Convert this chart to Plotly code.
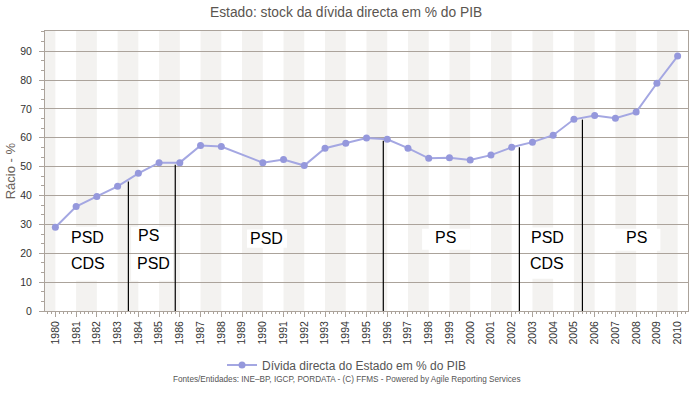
import plotly.graph_objects as go

years = list(range(1980, 2011))
ratio = [29.0, 36.2, 39.7, 43.2, 47.7, 51.4, 51.4, 57.3, 57.0, None,
         51.4, 52.5, 50.4, 56.4, 58.1, 59.9, 59.5, 56.4, 52.9, 53.1,
         52.3, 54.0, 56.7, 58.5, 60.9, 66.4, 67.7, 66.8, 68.9, 78.9, 88.3]

series_name = "Dívida directa do Estado em % do PIB"
title_text = "Estado: stock da dívida directa em % do PIB"
y_title = "Rácio - %"
footer = "Fontes/Entidades: INE–BP, IGCP, PORDATA - (C) FFMS - Powered by Agile Reporting Services"

# government changes: (x, top of marker line)
gov_change_x = [1983.52, 1985.78, 1995.81, 2002.37, 2005.41]
gov_change_top = [44.9, 50.7, 59.0, 56.7, 66.3]

# party labels: text, x, y
party_text = ["PSD", "CDS", "PS", "PSD", "PSD", "PS", "PSD", "CDS", "PS"]
party_x = [1981.57, 1981.57, 1984.51, 1984.71, 1990.16, 1998.79, 2003.75, 2003.70, 2008.04]
party_y = [25.4, 16.4, 26.1, 16.4, 25.0, 25.4, 25.4, 16.4, 25.4]

# white label boxes: x0, x1, y0, y1
box_x0 = [1980.46, 1983.65, 1989.24, 1997.68, 2002.74, 2006.90]
box_x1 = [1982.88, 1985.67, 1991.17, 1999.99, 2004.43, 2009.17]
box_y0 = [10.5, 10.5, 21.9, 21.2, 11.2, 20.9]
box_y1 = [29.2, 29.2, 28.2, 28.5, 28.9, 28.5]

FONT = "Liberation Sans, Arial, sans-serif"
GRID = "#aba39b"

fig = go.Figure()
fig.add_trace(go.Scatter(
    x=years, y=ratio, name=series_name, mode="lines+markers",
    connectgaps=True,
    line=dict(color="#a4a7e2", width=2),
    marker=dict(color="#9598dc", size=7),
))

shapes = []
for yr in range(1979, 2011, 2):
    shapes.append(dict(type="rect", xref="x", yref="paper",
                       x0=max(yr, 1979.5), x1=yr + 1, y0=0, y1=1,
                       fillcolor="#f3f2f0", line=dict(width=0), layer="below"))
for x0, x1, y0, y1 in zip(box_x0, box_x1, box_y0, box_y1):
    shapes.append(dict(type="rect", xref="x", yref="y", x0=x0, x1=x1, y0=y0, y1=y1,
                       fillcolor="white", line=dict(width=0), layer="below"))
for gx, gt in zip(gov_change_x, gov_change_top):
    shapes.append(dict(type="line", xref="x", yref="y", x0=gx, x1=gx, y0=0, y1=gt,
                       line=dict(color="black", width=1.2)))

annotations = []
for t, px, py in zip(party_text, party_x, party_y):
    annotations.append(dict(x=px, y=py, xref="x", yref="y", text=t, showarrow=False,
                            font=dict(family=FONT, size=16, color="black")))
annotations.append(dict(x=0.4697, y=-0.268, xref="paper", yref="paper", text=footer,
                        showarrow=False, font=dict(family=FONT, size=8.2, color="#555555")))
annotations.append(dict(x=-0.054, y=0.5, xref="paper", yref="paper", text=y_title,
                        textangle=-90, showarrow=False, xanchor="center", yanchor="middle",
                        font=dict(family=FONT, size=13, color="#6a625a")))

fig.update_layout(
    width=695, height=395,
    margin=dict(l=45, r=7, t=31, b=84, autoexpand=False),
    paper_bgcolor="white", plot_bgcolor="white",
    title=dict(text=title_text, x=0.498, xref="container", y=0.97, yref="container",
               xanchor="center", yanchor="middle",
               font=dict(family=FONT, size=13.8, color="#5a5550")),
    showlegend=True,
    legend=dict(orientation="h", x=0.4697, xanchor="center", y=-0.193,
                yanchor="middle", font=dict(family=FONT, size=12, color="#555555"),
                bgcolor="rgba(0,0,0,0)"),
    shapes=shapes, annotations=annotations,
    font=dict(family=FONT),
)
fig.update_xaxes(
    range=[1979.5, 2010.5], tickmode="array", tickvals=years,
    ticktext=[str(y) for y in years], tickangle=-90,
    tickfont=dict(family=FONT, size=10.5, color="#333333"),
    showgrid=False, zeroline=False, automargin=False,
    showline=True, linecolor=GRID, linewidth=1, mirror=True,
    ticks="outside", ticklen=5, tickcolor=GRID,
    minor=dict(dtick=0.2, tick0=1980, ticks="outside", ticklen=2, tickcolor=GRID),
)
fig.update_yaxes(
    range=[0, 97], dtick=10, tick0=0, automargin=False,
    tickfont=dict(family=FONT, size=10.5, color="#333333"),
    showgrid=True, gridcolor=GRID, gridwidth=1, zeroline=False,
    showline=True, linecolor=GRID, linewidth=1, mirror=True,
    ticks="outside", ticklen=5, tickcolor=GRID, ticklabelstandoff=5,
    minor=dict(dtick=10 / 3, tick0=0, ticks="outside", ticklen=3, tickcolor=GRID, showgrid=False),
)

fig.write_html(
    "out.html",
    config={"displayModeBar": False},
    post_script="document.body.style.margin='0';document.body.style.padding='0';document.body.style.overflow='hidden';",
)
